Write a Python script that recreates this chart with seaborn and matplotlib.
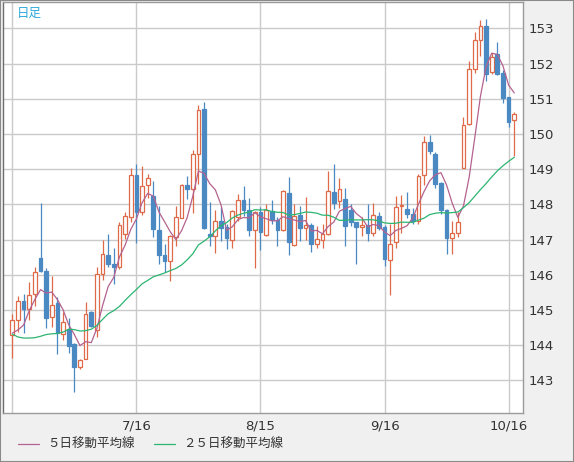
import numpy as np
import pandas as pd
import seaborn as sns
import matplotlib.pyplot as plt
from matplotlib.patches import Rectangle

# daily candles (6/16 .. 10/17)
opens = [144.28, 144.70, 145.25, 145.02, 145.44, 146.47, 146.10, 144.80, 145.21, 144.32,
         144.47, 144.02, 143.38, 143.61, 144.93, 144.42, 146.01, 146.56, 146.31, 146.21,
         147.16, 147.65, 148.82, 147.78, 148.55, 148.25, 147.28, 146.55, 146.39, 147.07,
         147.62, 148.54, 148.44, 149.44, 150.70, 147.15, 147.10, 147.54, 147.37, 146.99,
         147.64, 148.11, 147.85, 147.27, 147.79, 147.14, 147.82, 147.56, 147.27, 148.33,
         146.85, 147.69, 147.34, 147.40, 146.88, 146.98, 147.16, 148.35, 148.09, 148.16,
         147.85, 147.49, 147.36, 147.41, 147.19, 147.66, 147.35, 146.42, 146.93, 147.95,
         147.87, 147.72, 147.54, 148.82, 149.76, 149.44, 148.62, 147.85, 147.05, 147.19,
         149.04, 150.27, 151.86, 152.67, 153.07, 151.77, 152.26, 151.72, 151.04, 150.39]
highs = [144.88, 145.39, 145.45, 145.78, 146.22, 148.03, 146.19, 145.95, 145.37, 144.94,
         144.76, 144.05, 143.61, 145.22, 144.96, 146.22, 146.98, 147.17, 146.76, 147.51,
         147.78, 149.03, 149.15, 149.09, 148.86, 148.65, 147.94, 146.88, 147.12, 147.94,
         148.58, 148.80, 149.53, 150.83, 150.92, 148.08, 147.83, 147.92, 147.45, 147.85,
         148.28, 148.52, 148.18, 147.81, 147.92, 148.00, 148.11, 147.64, 148.40, 148.78,
         148.00, 147.94, 148.20, 147.48, 147.39, 147.45, 148.94, 149.14, 148.76, 148.45,
         148.00, 147.50, 147.65, 148.01, 148.04, 147.79, 147.41, 147.45, 148.25, 148.26,
         148.35, 147.91, 148.87, 149.94, 149.96, 149.49, 148.64, 147.88, 147.54, 147.78,
         150.49, 152.08, 152.91, 153.24, 153.28, 152.29, 152.60, 151.81, 151.06, 150.61]
lows = [143.63, 144.37, 144.34, 144.72, 145.11, 146.08, 144.49, 144.51, 143.75, 144.15,
        143.77, 142.66, 143.31, 143.60, 144.51, 144.23, 145.84, 146.21, 145.74, 146.15,
        147.02, 147.51, 146.90, 147.71, 148.18, 147.07, 146.31, 146.09, 145.82, 146.81,
        147.61, 148.15, 147.76, 148.58, 147.30, 146.82, 146.61, 146.96, 146.72, 146.75,
        147.54, 147.66, 147.09, 146.19, 146.70, 147.09, 147.45, 146.83, 147.25, 146.56,
        146.81, 146.97, 147.00, 146.64, 146.76, 146.77, 147.14, 147.88, 147.89, 146.81,
        147.38, 146.30, 147.10, 146.95, 147.10, 147.27, 146.26, 145.43, 146.76, 147.19,
        147.60, 147.45, 147.45, 148.54, 149.42, 148.46, 147.73, 146.60, 146.60, 147.07,
        149.02, 150.25, 151.72, 152.22, 151.51, 151.69, 151.67, 150.87, 150.20, 149.38]
closes = [144.70, 145.25, 145.02, 145.41, 146.09, 146.11, 144.77, 145.15, 144.34, 144.66,
          143.97, 143.38, 143.58, 144.89, 144.53, 146.01, 146.58, 146.31, 146.21, 147.42,
          147.68, 148.82, 147.78, 148.51, 148.76, 147.30, 146.56, 146.40, 147.09, 147.65,
          148.54, 148.43, 149.44, 150.67, 147.32, 147.09, 147.54, 147.33, 147.04, 147.80,
          148.11, 147.85, 147.26, 147.79, 147.21, 147.85, 147.55, 147.26, 148.37, 146.93,
          147.66, 147.34, 147.40, 146.88, 147.02, 147.17, 148.37, 148.04, 148.43, 147.38,
          147.49, 147.35, 147.40, 147.19, 147.70, 147.33, 146.45, 146.88, 147.93, 147.99,
          147.72, 147.54, 148.80, 149.76, 149.52, 148.59, 147.83, 147.04, 147.19, 147.49,
          150.25, 151.86, 152.67, 153.07, 151.69, 152.19, 151.69, 151.03, 150.34, 150.58]

# moving-average values before enough candles are on screen
ma5_head = [144.34, 144.43, 144.57, 144.98]
ma25_head = [144.31, 144.23, 144.20, 144.20, 144.21, 144.25, 144.30, 144.32, 144.33, 144.37,
             144.45, 144.44, 144.40, 144.41, 144.45, 144.56, 144.73, 144.89, 144.98, 145.10,
             145.27, 145.43, 145.58, 145.74]

tick_pos = [0, 22, 44, 66, 88]
tick_labels = ['', '7/16', '8/15', '9/16', '10/16']
y_ticks = list(range(143, 154))

UP = '#de6a48'
DOWN = '#4a89c2'
MA5_COLOR = '#b4628f'
MA25_COLOR = '#2cb571'

df = pd.DataFrame({'open': opens, 'high': highs, 'low': lows, 'close': closes})
df['idx'] = np.arange(len(df))
ma5 = df['close'].rolling(5).mean()
ma5.iloc[:len(ma5_head)] = ma5_head
ma25 = df['close'].rolling(25).mean()
ma25.iloc[:len(ma25_head)] = ma25_head
df['ma5'] = ma5
df['ma25'] = ma25

sns.set_style('white')
plt.rcParams['font.family'] = ['DejaVu Sans', 'Noto Sans CJK JP']

fig = plt.figure(figsize=(5.74, 4.62), dpi=100, facecolor='#f0f0f0')
W, H = 574, 462
ax = fig.add_axes([3 / W, (H - 413) / H, (523 - 3) / W, (413 - 2) / H])
ax.set_facecolor('white')

# candles
up = df['close'] >= df['open']
ax.vlines(df['idx'][up], df['low'][up], df['high'][up], color=UP, lw=0.9, zorder=2)
ax.vlines(df['idx'][~up], df['low'][~up], df['high'][~up], color=DOWN, lw=0.9, zorder=2)
body_lo = df[['open', 'close']].min(axis=1)
body_h = (df['close'] - df['open']).abs().clip(lower=0.04)
ax.bar(df['idx'][up], body_h[up], bottom=body_lo[up], width=0.66,
       facecolor='white', edgecolor=UP, linewidth=0.9, zorder=3)
ax.bar(df['idx'][~up], body_h[~up], bottom=body_lo[~up], width=0.66,
       facecolor=DOWN, edgecolor=DOWN, linewidth=0.9, zorder=3)

# moving averages
sns.lineplot(data=df, x='idx', y='ma5', color=MA5_COLOR, lw=0.9, ax=ax, zorder=4,
             label='５日移動平均線')
sns.lineplot(data=df, x='idx', y='ma25', color=MA25_COLOR, lw=0.9, ax=ax, zorder=4,
             label='２５日移動平均線')

ax.set_xlim(-1.65, 90.55)
ax.set_ylim(142.07, 153.75)
ax.set_xlabel('')
ax.set_ylabel('')
ax.set_xticks(tick_pos)
ax.set_xticklabels(tick_labels)
ax.set_yticks(y_ticks)
ax.yaxis.tick_right()
ax.tick_params(axis='both', length=0, labelsize=9.5, colors='#333333')
ax.tick_params(axis='y', pad=4)
ax.tick_params(axis='x', pad=5)
ax.grid(True, color='#cacaca', lw=1)
ax.set_axisbelow(True)
for side, sp in ax.spines.items():
    sp.set_color('#9a9a9a')
    sp.set_linewidth(1)
ax.spines['left'].set_color('#6e6e6e')

ax.text(0.026, 0.988, '日足', transform=ax.transAxes, ha='left', va='top',
        color='#2fa8dc', fontsize=9, family=['Noto Sans CJK JP'])

handles, labels = ax.get_legend_handles_labels()
ax.get_legend().remove()
fig.legend(handles, labels, loc='center left', bbox_to_anchor=(0.012, 0.037),
           ncol=2, frameon=False, handlelength=1.7, handletextpad=0.65,
           columnspacing=1.5, prop={'family': ['Noto Sans CJK JP'], 'size': 9},
           labelcolor='#333333')

fig.patches.append(Rectangle((0, 0), 1, 1, transform=fig.transFigure, fill=False,
                             edgecolor='#8a8a8a', lw=1.5))

fig.savefig('out.png', dpi=100, facecolor=fig.get_facecolor())
